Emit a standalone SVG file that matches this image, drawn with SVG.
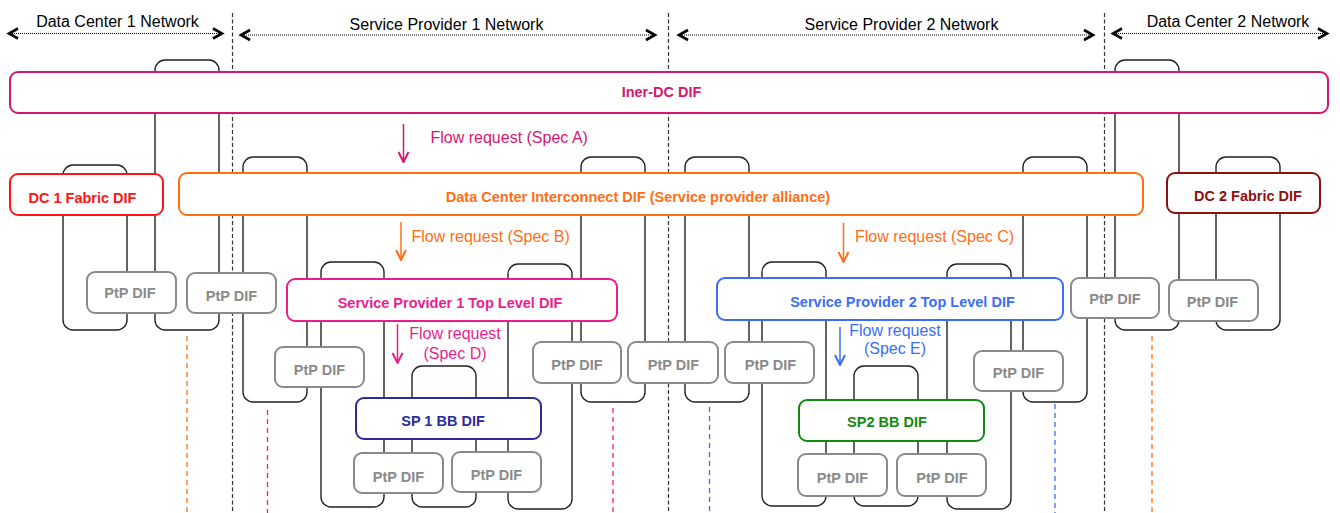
<svg xmlns="http://www.w3.org/2000/svg" width="1340" height="513" viewBox="0 0 1340 513">
<style>
text{font-family:"Liberation Sans",Arial,sans-serif}
.lbl{font-size:16px;fill:#000;text-anchor:middle}
.fr{font-size:16px}
.b{font-size:14.5px;font-weight:bold;text-anchor:middle}
.box{fill:#fff;stroke-width:2}
.ptp{fill:#fff;stroke:#8a8a8a;stroke-width:2}
.ptpt{fill:#8a8a8a}
.loop{fill:none;stroke:#222;stroke-width:1.4}
.div{stroke:#333;stroke-width:1.2;stroke-dasharray:4,2.5;fill:none}
.span{stroke:#000;stroke-width:1;stroke-dasharray:1,1;fill:none}
.chev{stroke:#000;stroke-width:2.6;fill:none}
.cd{stroke-width:1.3;stroke-dasharray:5,4;fill:none}
</style>
<defs>
<marker id="aA" viewBox="0 0 12 12" refX="11" refY="6" markerWidth="12" markerHeight="12" markerUnits="userSpaceOnUse" orient="auto"><path d="M1,1 L11,6 L1,11" fill="none" stroke="#d6166f" stroke-width="2"/></marker>
<marker id="aO" viewBox="0 0 12 12" refX="11" refY="6" markerWidth="12" markerHeight="12" markerUnits="userSpaceOnUse" orient="auto"><path d="M1,1 L11,6 L1,11" fill="none" stroke="#ff6e14" stroke-width="2"/></marker>
<marker id="aP" viewBox="0 0 12 12" refX="11" refY="6" markerWidth="12" markerHeight="12" markerUnits="userSpaceOnUse" orient="auto"><path d="M1,1 L11,6 L1,11" fill="none" stroke="#ea1e8d" stroke-width="2"/></marker>
<marker id="aB" viewBox="0 0 12 12" refX="11" refY="6" markerWidth="12" markerHeight="12" markerUnits="userSpaceOnUse" orient="auto"><path d="M1,1 L11,6 L1,11" fill="none" stroke="#3b6ef5" stroke-width="2"/></marker>
</defs>
<rect width="1340" height="513" fill="#fff"/>

<g id="network-spans">
<line class="span" x1="10" y1="33.5" x2="222" y2="33.5"/>
<path class="chev" d="M18,28.5 L9,33.5 L18,38.5 M213,28.5 L222,33.5 L213,38.5"/>
<text class="lbl" x="117.5" y="26.5">Data Center 1 Network</text>
<line class="span" x1="242" y1="35" x2="654" y2="35"/>
<path class="chev" d="M250,30 L241,35 L250,40 M646,30 L655,35 L646,40"/>
<text class="lbl" x="446.5" y="30">Service Provider 1 Network</text>
<line class="span" x1="680" y1="35" x2="1092" y2="35"/>
<path class="chev" d="M688,30 L679,35 L688,40 M1084,30 L1093,35 L1084,40"/>
<text class="lbl" x="901.5" y="30">Service Provider 2 Network</text>
<line class="span" x1="1114" y1="33.5" x2="1326" y2="33.5"/>
<path class="chev" d="M1122,28.5 L1113,33.5 L1122,38.5 M1318,28.5 L1327,33.5 L1318,38.5"/>
<text class="lbl" x="1228" y="26.5">Data Center 2 Network</text>
</g>

<g id="dividers">
<line class="div" x1="232.5" y1="13" x2="232.5" y2="513"/>
<line class="div" x1="668.5" y1="13" x2="668.5" y2="513"/>
<line class="div" x1="1104.5" y1="13" x2="1104.5" y2="513"/>
<line class="cd" stroke="#ff6e14" x1="187" y1="336" x2="187" y2="513"/>
<line class="cd" stroke="#ea1e8d" x1="267.5" y1="410" x2="267.5" y2="513"/>
<line class="cd" stroke="#ea1e8d" x1="613" y1="408" x2="613" y2="513"/>
<line class="cd" stroke="#3b6ef5" x1="709.5" y1="407" x2="709.5" y2="513"/>
<line class="cd" stroke="#3b6ef5" x1="1055" y1="404" x2="1055" y2="513"/>
<line class="cd" stroke="#ff6e14" x1="1152" y1="336" x2="1152" y2="513"/>
</g>

<g id="connectors">
<rect class="loop" x="63" y="165" width="64" height="165" rx="10"/>
<rect class="loop" x="155" y="60" width="64" height="270" rx="10"/>
<rect class="loop" x="243" y="157" width="64" height="245" rx="10"/>
<rect class="loop" x="321" y="262" width="63" height="245" rx="10"/>
<rect class="loop" x="412" y="366" width="64" height="141" rx="10"/>
<rect class="loop" x="508" y="264" width="64" height="245" rx="10"/>
<rect class="loop" x="581" y="157" width="64" height="245" rx="10"/>
<rect class="loop" x="685" y="157" width="64" height="245" rx="10"/>
<rect class="loop" x="762" y="262" width="64" height="244" rx="10"/>
<rect class="loop" x="854" y="366" width="64" height="140" rx="10"/>
<rect class="loop" x="947" y="264" width="64" height="245" rx="10"/>
<rect class="loop" x="1023" y="157" width="64" height="245" rx="10"/>
<rect class="loop" x="1115" y="60" width="64" height="270" rx="10"/>
<rect class="loop" x="1216" y="157" width="64" height="173" rx="10"/>
<line x1="403.5" y1="124" x2="403.5" y2="162" stroke="#d6166f" stroke-width="1.5" marker-end="url(#aA)"/>
<line x1="401" y1="222" x2="401" y2="260" stroke="#ff6e14" stroke-width="1.5" marker-end="url(#aO)"/>
<line x1="843.5" y1="223" x2="843.5" y2="262" stroke="#ff6e14" stroke-width="1.5" marker-end="url(#aO)"/>
<line x1="397.5" y1="324" x2="397.5" y2="363" stroke="#ea1e8d" stroke-width="1.5" marker-end="url(#aP)"/>
<line x1="840" y1="327" x2="840" y2="365" stroke="#3b6ef5" stroke-width="1.5" marker-end="url(#aB)"/>
<text class="fr" x="430.5" y="143" fill="#d6166f">Flow request (Spec A)</text>
<text class="fr" x="411.5" y="241.5" fill="#ff6e14">Flow request (Spec B)</text>
<text class="fr" x="855" y="242" fill="#ff6e14">Flow request (Spec C)</text>
<text class="fr" x="455" y="339" fill="#ea1e8d" text-anchor="middle">Flow request</text>
<text class="fr" x="455" y="358.5" fill="#ea1e8d" text-anchor="middle">(Spec D)</text>
<text class="fr" x="895" y="335.5" fill="#3b6ef5" text-anchor="middle">Flow request</text>
<text class="fr" x="895" y="354" fill="#3b6ef5" text-anchor="middle">(Spec E)</text>
</g>

<g id="iner-dc-dif"><rect class="box" x="10" y="72" width="1318" height="41" rx="8" stroke="#d6166f"/><text class="b" x="661.5" y="96.5" fill="#d6166f">Iner-DC DIF</text></g>
<g id="dc1-fabric-dif"><rect class="box" x="10" y="174" width="153" height="41" rx="8" stroke="#ff1414"/><text class="b" x="82.5" y="203" fill="#ff1414">DC 1 Fabric DIF</text></g>
<g id="dci-dif"><rect class="box" x="179" y="173" width="964" height="42" rx="8" stroke="#ff6e14"/><text class="b" x="638" y="201.5" fill="#ff6e14">Data Center Interconnect DIF (Service provider alliance)</text></g>
<g id="dc2-fabric-dif"><rect class="box" x="1167" y="173" width="153" height="40" rx="8" stroke="#8e1010"/><text class="b" x="1248" y="200.5" fill="#8e1010">DC 2 Fabric DIF</text></g>
<g id="sp1-top-dif"><rect class="box" x="287" y="279" width="330" height="42" rx="8" stroke="#ea1e8d"/><text class="b" x="450" y="308" fill="#ea1e8d">Service Provider 1 Top Level DIF</text></g>
<g id="sp2-top-dif"><rect class="box" x="717" y="278" width="346" height="42" rx="8" stroke="#3b6ef5"/><text class="b" x="902.5" y="306.5" fill="#3b6ef5">Service Provider 2 Top Level DIF</text></g>
<g id="sp1-bb-dif"><rect class="box" x="356" y="398" width="185" height="41" rx="8" stroke="#2b2b99"/><text class="b" x="443" y="425.5" fill="#2b2b99">SP 1 BB DIF</text></g>
<g id="sp2-bb-dif"><rect class="box" x="799" y="400" width="185" height="41" rx="8" stroke="#128a12"/><text class="b" x="887" y="426.5" fill="#128a12">SP2 BB DIF</text></g>

<g id="ptp-1"><rect class="ptp" x="87" y="272" width="89" height="41" rx="8"/><text class="b ptpt" x="130" y="298">PtP DIF</text></g>
<g id="ptp-2"><rect class="ptp" x="187" y="273" width="89" height="40" rx="8"/><text class="b ptpt" x="231.5" y="301">PtP DIF</text></g>
<g id="ptp-3"><rect class="ptp" x="275" y="347" width="89" height="40" rx="8"/><text class="b ptpt" x="319.5" y="375">PtP DIF</text></g>
<g id="ptp-4"><rect class="ptp" x="354" y="453" width="89" height="40" rx="8"/><text class="b ptpt" x="398.5" y="481.5">PtP DIF</text></g>
<g id="ptp-5"><rect class="ptp" x="452" y="452" width="89" height="40" rx="8"/><text class="b ptpt" x="496.5" y="480">PtP DIF</text></g>
<g id="ptp-6"><rect class="ptp" x="533" y="342" width="88" height="41" rx="8"/><text class="b ptpt" x="577" y="370">PtP DIF</text></g>
<g id="ptp-7"><rect class="ptp" x="628" y="342" width="90" height="41" rx="8"/><text class="b ptpt" x="673.5" y="370">PtP DIF</text></g>
<g id="ptp-8"><rect class="ptp" x="725" y="342" width="89" height="41" rx="8"/><text class="b ptpt" x="770.5" y="370">PtP DIF</text></g>
<g id="ptp-9"><rect class="ptp" x="974" y="351" width="89" height="40" rx="8"/><text class="b ptpt" x="1018.5" y="377.5">PtP DIF</text></g>
<g id="ptp-10"><rect class="ptp" x="798" y="454" width="89" height="42" rx="8"/><text class="b ptpt" x="842.5" y="483">PtP DIF</text></g>
<g id="ptp-11"><rect class="ptp" x="897" y="454" width="89" height="42" rx="8"/><text class="b ptpt" x="942" y="483">PtP DIF</text></g>
<g id="ptp-12"><rect class="ptp" x="1071" y="278" width="88" height="40" rx="8"/><text class="b ptpt" x="1115" y="304">PtP DIF</text></g>
<g id="ptp-13"><rect class="ptp" x="1169" y="280" width="89" height="41" rx="8"/><text class="b ptpt" x="1212.5" y="306.5">PtP DIF</text></g>
</svg>
